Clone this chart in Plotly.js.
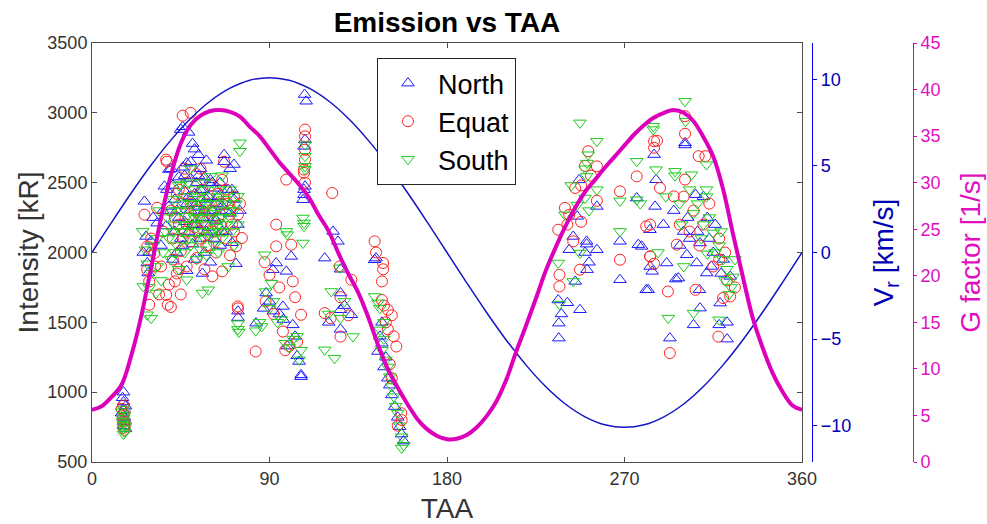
<!DOCTYPE html>
<html>
<head>
<meta charset="utf-8">
<script src="https://cdn.plot.ly/plotly-3.0.1.min.js"></script>
<style>html,body{margin:0;padding:0;background:#fff;}#chart{width:987px;height:524px;}</style>
</head>
<body>
<div id="chart"></div>
<script>
// ---- Data ----
const xTickVals = [0, 90, 180, 270, 360];
const yTickVals = [500, 1000, 1500, 2000, 2500, 3000, 3500];
const vrTickVals = [-10, -5, 0, 5, 10];

// Radial velocity curve (TAA in degrees, Vr in km/s)
const vrTAA = [0,10,20,30,40,50,60,70,80,90,100,110,120,130,140,150,160,170,180,190,200,210,220,230,240,250,260,270,280,290,300,310,320,330,340,350,360];
const vrVal = [0,1.75,3.45,5.05,6.49,7.74,8.75,9.49,9.95,10.1,9.95,9.49,8.75,7.74,6.49,5.05,3.45,1.75,0,-1.75,-3.45,-5.05,-6.49,-7.74,-8.75,-9.49,-9.95,-10.1,-9.95,-9.49,-8.75,-7.74,-6.49,-5.05,-3.45,-1.75,0];

// G factor curve (TAA in degrees, G in 1/s)
const gTAA = [0,5,10,15,20,25,30,35,40,45,50,55,60,65,70,75,80,85,90,95,100,105,110,115,120,125,130,135,140,145,150,155,160,165,170,175,180,185,190,195,200,205,210,215,220,225,230,235,240,245,250,255,260,265,270,275,280,285,290,295,300,305,310,315,320,325,330,335,340,345,350,355,360];
const gVal = [5.6,6.0,7.0,8.3,11.5,15.7,20.9,26.2,30.8,34.2,36.2,37.2,37.7,37.8,37.6,37.1,36.0,35.0,33.6,32.2,31.0,29.8,28.4,26.5,24.8,22.4,20.2,18.2,15.6,12.6,10.0,8.0,6.2,4.6,3.5,2.8,2.45,2.5,2.9,3.7,4.9,6.5,8.8,11.8,14.6,17.5,20.5,23.0,25.3,27.3,29.0,30.3,31.6,32.8,34.0,35.2,36.2,37.0,37.5,37.8,37.5,36.6,34.9,32.8,29.3,24.5,19.9,15.5,12.3,9.6,7.6,6.1,5.6];

// North (TAA, intensity kR)
const northTAA = [16,15.5,16,17,16,15,16.5,16,16,17,
  26.6,27.4,28,28.5,26,33,37.6,39,36.7,39,30,35,
  40,41,42,43,44,45,46,46,47,47,48,48,49,49,50,50,51,51,52,52,53,53,54,54,55,55,56,56,57,57,58,58,59,60,60,61,62,62,63,64,65,66,67,67,68,69,70,70,71,72,72,73,74,75,45,43,48,52,56,
  42,44,46,49,51,53,55,57,59,61,63,65,68,71,47,50,54,58,62,66,41,38,36,31,29,
  74,74,
  83.2,88.3,91.7,93.4,96.8,98.5,101,101.8,106,106,90,95,99,103,87,92,97,104,105,
  107.8,108.6,108,107.5,108,107.5,107.5,107,
  122.2,124.7,118,126,126,126,131.5,126,120,128,
  143.3,144,147,146,145,148,150,151,153.5,155,156,157,158,152,149,147,
  247,256,244,250.8,250.8,256,242,251,245,236.4,241,247.4,236.7,236.7,250,246,238,252,
  267.7,267.7,276.2,277,282,282.9,278.7,281,285,285.5,
  289.7,283,284,291.4,297.3,296,301.6,306,306.6,308.3,311.7,323.6,308,318.5,308.3,305,318,293,300.7,300.7,286,295,300,312,315,320,322,322,303,310,
  298,302,307,313,316,319,314];
const northI = [1000,960,930,900,870,850,820,790,760,740,
  2366,2115,1925,1853,2000,2210,2190,2330,2474,2594,2080,2050,
  2600,2480,2380,2300,2540,2880,2900,2610,2440,2220,2640,2350,2860,2150,2530,2300,2780,2060,2740,2420,2200,2500,2700,2330,2100,2600,2450,2250,2540,2000,2660,2380,2180,2520,1930,2300,2460,2100,2230,2400,2050,2330,2700,2650,2150,2450,2600,2280,2070,2630,2380,1920,2200,2300,2100,2000,1870,1950,1850,
  2150,2250,2050,2400,2200,2350,2450,2300,2400,2500,2350,2500,2300,2450,2550,2650,2550,2150,2250,2150,1950,2450,2300,2250,2000,
  1534,1580,
  1494,1710,1877,1925,1614,1865,1972,1482,1111,1124,1650,1560,1330,1400,1600,1580,1520,1260,1220,
  3131,3083,2808,2760,2474,2450,2414,2378,
  2151,2080,1960,1880,1710,1590,1554,1450,1500,1620,
  1948,1960,1500,1400,1291,1180,1100,1050,897,820,753,700,650,980,1250,1350,
  2520,2330,2115,2080,2060,2020,2020,1877,1793,1660,1640,1590,1494,1387,2000,2259,1560,1930,
  2080,1805,2390,2056,1733,2163,2044,1733,2701,2330,
  2200,1900,1865,1925,1817,1810,1984,2414,1925,2068,1853,1829,1733,1638,1602,1482,1482,1387,2785,2770,2521,2300,2150,2250,2000,1950,1500,1380,2100,2400,
  2050,2250,2150,2100,2200,1850,1900];

// Equat
const equatTAA = [16,15,16.5,16,15.5,16,17,16,16.5,
  38,40,41,42,43,44,45,46,46,47,48,48,49,50,50,51,52,53,53,54,55,56,57,57,58,59,60,61,61,62,63,64,65,66,66,67,68,69,70,71,72,73,74,75,76,45,44,39,37.6,38.4,40,29,28,26.6,31.6,28,29,35,33,37.6,
  42,44,46,48,50,52,54,56,58,60,62,64,66,68,70,72,47,55,41,43,36,32,30,34,
  73.9,74,
  83,88,93.4,93.4,101,87.5,101.8,96.8,98.5,90,95,100,104,106,103,92,98,
  108,108,108,108,107.5,107.5,108,121.8,
  125.6,131.5,126,118,121,126,130,
  143.3,144,147.6,147.6,147,147,150,152,149,154.3,153,150,156.8,157,155,151,152,148,
  251.6,256,245,248,256,239.8,242,248,236.4,244,247.4,237,237,253,250,241,
  267.7,267.7,276.2,281,283,283,285,285,
  300.7,300.7,286.5,307.6,311,300.7,288,295,296.5,283,285,306,320,323.6,292,317.6,293,305,310,315,318,298,322,326,
  303,308,313,318,321,300];
const equatI = [905,880,860,840,810,790,770,745,730,
  2650,2300,2100,1793,2420,2200,2010,2980,2350,2150,2500,1900,2250,3000,2080,2400,2180,2560,1960,2300,2100,2450,2220,1880,2350,2050,2480,2150,1829,2300,2000,2420,2200,1865,2520,2650,2100,2350,1980,2200,2400,2044,2271,2350,2104,1700,1880,1770,1697,1626,1610,1626,2044,2271,1996,1877,1793,1900,2320,2665,
  2250,2450,2100,2200,2350,2300,2150,2250,2050,2300,2150,2250,2350,2450,2300,2150,2600,2600,1950,1850,2150,1900,2100,1700,
  1614,1600,
  1291,1650,2200,2044,2056,1930,1793,1434,2522,1840,1750,1330,1360,1554,1680,1560,1300,
  2880,2832,2736,2665,2593,2570,2500,2426,
  1900,1805,1680,1566,1530,1398,1550,
  2080,2000,1925,1880,1793,1660,1590,1550,1500,1327,1400,1450,849,800,760,1200,1100,1620,
  2725,2617,2462,2480,2370,2319,2270,2220,2163,2080,1877,1840,1757,2550,2620,2200,
  2438,1948,2545,2187,2200,1972,2797,2750,
  2976,2850,2800,2690,2690,2522,2462,2402,2056,1972,1920,1733,1674,1685,1721,1398,1280,2300,2200,1900,2100,2200,1800,1750,
  2150,2050,2350,1950,2000,2400];

// South
const southTAA = [16,15,16.5,16,15.5,16,17,16,16.5,16,
  25.7,27,28,26,32.5,30,28,33,35,30,36,34,
  38,39,40,41,42,43,44,44,45,46,47,47,48,48,49,50,50,51,52,52,53,53,54,54,55,55,56,56,57,57,58,58,59,59,60,60,61,62,62,63,64,64,65,66,67,68,69,69,70,71,72,73,74,75,75,74,66,50,45,
  41,43,45,46,47,49,50,51,52,53,54,55,56,57,58,59,60,61,62,63,64,65,66,67,68,70,72,40,42,37,31,29,33,
  74,74,74.5,
  87.5,98.5,99,83,86,88,90,92,94,96,98,100,102,105,106,104,91,85,
  108,108,108,108,107,107.5,107.5,107,
  125.6,121.3,126,132.3,118,123,128,120,
  143.3,145,146,146,148,149,150,151,152,153,154,155,156,157,158,157,147,148,
  247.4,256,251.6,251,250,250.8,243,256,250,239.8,247.4,236.4,244,237,252,246,
  267.7,267.7,276.2,276.2,278,284.6,284.6,286,
  300.7,301,311.6,295.6,295.6,304,311.6,311.6,291,298,305,310,315,318,320,322,312,323,292.2,305,318,325,300,287,326,
  303,307,309,313,316,319,321,324,299];
const southI = [880,860,835,815,790,770,760,740,715,700,
  2151,2020,1920,1757,1710,1530,1554,2100,1800,1850,2000,2300,
  2250,2100,1950,2380,2200,2050,2480,1880,2300,2150,2400,2000,2260,1805,2500,2200,2050,2350,2100,2450,2280,1950,2150,2380,2020,2250,1710,2500,2300,2100,2200,1980,1733,2400,2545,2120,2280,2050,2350,2180,2450,2000,2250,2100,2380,2200,1900,2300,2450,2150,2050,2350,2402,2785,2725,2200,2550,2600,2486,
  2150,2300,2150,2350,2200,2100,2350,2200,2250,2400,2250,2350,2150,2450,2350,2250,2350,2150,2200,2300,2150,2400,2250,2150,2350,2250,2300,2300,2000,2150,2050,1750,1900,
  1490,1450,1430,
  1984,2151,2128,1440,1470,1720,1600,1650,1500,1520,1350,1320,1380,1231,1300,1400,1780,1500,
  2772,2689,2617,2595,2247,2211,2188,2068,
  1890,1721,1530,1398,1303,1243,1650,1560,
  1685,1640,1600,1446,1380,1231,1180,1111,1040,968,900,850,760,681,620,600,1300,1500,
  2928,2797,2700,2640,2600,2545,2480,2450,2390,2270,1996,1925,1793,1630,2300,2340,
  2370,2151,2653,2378,2350,2904,2880,2593,
  3083,2940,2629,2581,2550,2557,2450,2400,2400,2350,2280,2200,2140,2050,1950,1880,1990,1700,1530,1566,1518,1825,1900,2000,1950,
  2450,2350,2100,2250,2000,2150,1800,1750,2200];

// ---- Styling ----
const FONT = 'Liberation Sans, Arial, Helvetica, sans-serif';
const AX = '#4d4d4d';
const BLUE = '#0000ee';
const MAG = '#dd00bb';

const traces = [
  {x: northTAA, y: northI, type: 'scatter', mode: 'markers', name: 'North',
   marker: {symbol: 'triangle-up-open', size: 11, color: '#1a1aff', line: {width: 1}}},
  {x: equatTAA, y: equatI, type: 'scatter', mode: 'markers', name: 'Equat',
   marker: {symbol: 'circle-open', size: 11, color: '#ff2020', line: {width: 1}}},
  {x: southTAA, y: southI, type: 'scatter', mode: 'markers', name: 'South',
   marker: {symbol: 'triangle-down-open', size: 11, color: '#1ecc1e', line: {width: 1}}},
  {x: vrTAA, y: vrVal, type: 'scatter', mode: 'lines', yaxis: 'y2', showlegend: false,
   line: {color: '#1414c8', width: 1.5, shape: 'spline'}},
  {x: gTAA, y: gVal, type: 'scatter', mode: 'lines', yaxis: 'y3', showlegend: false,
   line: {color: MAG, width: 4, shape: 'spline'}}
];

const layout = {
  width: 987, height: 524,
  margin: {l: 92, r: 10, t: 43, b: 62},
  paper_bgcolor: '#ffffff', plot_bgcolor: '#ffffff',
  font: {family: FONT, color: '#262626'},
  showlegend: true,
  title: {text: '<b>Emission vs TAA</b>', font: {family: FONT, size: 28, color: '#000'},
          x: 0.40113, xref: 'paper', xanchor: 'center', y: 0.958, yref: 'container', yanchor: 'middle'},
  xaxis: {domain: [0, 0.80226], range: [0, 360], tickvals: xTickVals, ticks: 'inside', ticklen: 5,
          tickcolor: AX, showline: true, linecolor: AX, linewidth: 1, mirror: 'ticks',
          showgrid: false, zeroline: false, tickfont: {size: 18, color: '#333'},
          title: {text: 'TAA', font: {size: 28, color: '#333'}, standoff: 11}},
  yaxis: {range: [500, 3500], tickvals: yTickVals, ticks: 'inside', ticklen: 5, tickcolor: AX,
          showline: true, linecolor: AX, linewidth: 1, mirror: 'ticks', showgrid: false, zeroline: false,
          tickfont: {size: 18, color: '#333'},
          title: {text: 'Intensity [kR]', font: {size: 28, color: '#333'}, standoff: 0}},
  yaxis2: {overlaying: 'y', side: 'right', anchor: 'free', position: 0.8136, range: [-12.1, 12.1],
           tickvals: vrTickVals, ticks: 'outside', ticklen: 4, tickcolor: BLUE, showline: true,
           linecolor: BLUE, linewidth: 1, showgrid: false, zeroline: false,
           tickfont: {size: 18, color: '#0000b4'},
           title: {text: 'V<sub>r</sub> [km/s]', font: {size: 28, color: '#0000b4'}, standoff: 23}},
  yaxis3: {overlaying: 'y', side: 'right', anchor: 'free', position: 0.9277, range: [0, 45],
           dtick: 5, ticks: 'outside', ticklen: 3, tickcolor: MAG, showline: true,
           linecolor: MAG, linewidth: 1, showgrid: false, zeroline: false,
           tickfont: {size: 18, color: '#e010c0'},
           title: {text: 'G factor [1/s]', font: {size: 28, color: '#e010c0'}, standoff: 20}},
  legend: {x: 0.322, y: 0.964, xanchor: 'left', yanchor: 'top', bgcolor: '#ffffff',
           bordercolor: '#262626', borderwidth: 1, font: {size: 27, color: '#000'},
           itemwidth: 50, tracegroupgap: 0}
};

Plotly.newPlot('chart', traces, layout, {staticPlot: true, displayModeBar: false});
</script>
</body>
</html>
